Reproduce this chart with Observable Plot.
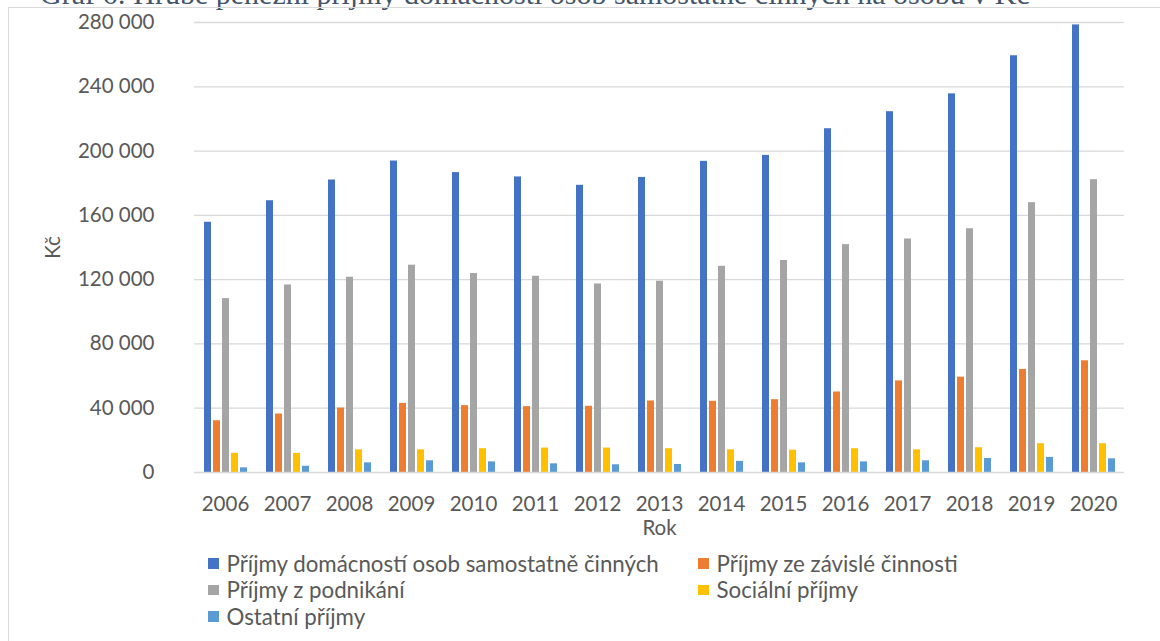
<!DOCTYPE html>
<html>
<head>
<meta charset="utf-8">
<script src="https://cdn.jsdelivr.net/npm/d3@7"></script>
<script src="https://cdn.jsdelivr.net/npm/@observablehq/plot@0.6"></script>
<style>
  html, body { margin: 0; padding: 0; background: #fff; overflow: hidden; }
  body { position: relative; width: 1160px; height: 641px; }
  #title { position: absolute; left: 40px; top: -21px; white-space: nowrap;
           font-family: "Liberation Serif", serif; font-size: 30px; line-height: 30px; color: #44546A; }
  #frame { position: absolute; left: 8px; top: 7px; width: 1180px; height: 700px;
           border: 1px solid #d9d9d9; box-sizing: border-box; }
  #chart { position: absolute; left: 0; top: 0; }
  #legend { position: absolute; left: 208px; top: 550px; display: grid;
            grid-template-columns: 490px 300px; row-gap: 0px;
            font-family: Lato, sans-serif; font-size: 22.3px; color: #595959; }
  .item { display: flex; align-items: center; height: 26.5px; white-space: nowrap; }
  .sw { width: 10.5px; height: 10.5px; margin-right: 8px; flex: none; }
</style>
</head>
<body>
<div id="title">Graf 6: Hrubé peněžní příjmy domácností osob samostatně činných na osobu v Kč</div>
<div id="frame"></div>
<div id="chart"></div>
<div id="legend"></div>
<script>
const years = ["2006","2007","2008","2009","2010","2011","2012","2013","2014","2015","2016","2017","2018","2019","2020"];
const series = [
  "Příjmy domácností osob samostatně činných",
  "Příjmy ze závislé činnosti",
  "Příjmy z podnikání",
  "Sociální příjmy",
  "Ostatní příjmy"
];
const colors = ["#4472C4", "#ED7D31", "#A5A5A5", "#FFC000", "#5B9BD5"];

const prijmyOSC    = [155700, 169100, 182000, 193800, 186600, 183900, 178700, 183600, 193600, 197300, 213900, 224500, 235600, 259300, 278500];
const zavisla      = [32200, 36400, 40100, 43000, 41600, 41000, 41200, 44500, 44300, 45300, 50100, 57000, 59300, 64100, 69500];
const podnikani    = [108200, 116700, 121500, 129000, 123800, 122100, 117300, 119000, 128300, 131900, 141800, 145300, 151700, 167900, 182200];
const socialni     = [11900, 11900, 14100, 14100, 14800, 15200, 15200, 14800, 14100, 13900, 14800, 14100, 15400, 17900, 17900];
const ostatni      = [2900, 3900, 6000, 7300, 6600, 5400, 4800, 5000, 6900, 6000, 6600, 7300, 8700, 9400, 8500];

const yTicks = [0, 40000, 80000, 120000, 160000, 200000, 240000, 280000];

const seriesValues = [prijmyOSC, zavisla, podnikani, socialni, ostatni];
const data = years.flatMap((yr, i) => series.map((s, j) => ({year: yr, series: s, value: seriesValues[j][i]})));

const fmt = d => d3.format(",")(d).replace(/,/g, " ");

const chart = Plot.plot({
  width: 1160,
  height: 545,
  marginLeft: 194,
  marginRight: 36,
  marginTop: 22,
  marginBottom: 73,
  style: {fontFamily: "Lato, sans-serif", fontSize: "20.5px", color: "#595959", background: "transparent", overflow: "visible"},
  fx: {domain: years, padding: 0, label: "Rok", labelAnchor: "center", labelArrow: "none", labelOffset: 62, tickSize: 0, tickPadding: 24, axis: "bottom"},
  x: {domain: series, axis: null, paddingInner: 0.24, paddingOuter: 0.883},
  y: {domain: [0, 280000], ticks: yTicks, tickFormat: fmt, tickSize: 0, tickPadding: 40, label: "Kč", labelAnchor: "center", labelArrow: "none", labelOffset: 149},
  color: {domain: series, range: colors},
  marks: [
    Plot.ruleY(yTicks.filter(d => d > 0), {stroke: "#d9d9d9", strokeWidth: 1.3}),
    Plot.barY(data, {fx: "year", x: "series", y: "value", fill: "series"}),
    Plot.ruleY([0], {stroke: "#d9d9d9", strokeWidth: 1.6})
  ]
});
document.getElementById("chart").appendChild(chart);

const legend = document.getElementById("legend");
series.forEach((s, j) => {
  const it = document.createElement("div");
  it.className = "item";
  const sw = document.createElement("span");
  sw.className = "sw";
  sw.style.background = colors[j];
  const tx = document.createElement("span");
  tx.textContent = s;
  it.appendChild(sw); it.appendChild(tx);
  legend.appendChild(it);
});
</script>
</body>
</html>
